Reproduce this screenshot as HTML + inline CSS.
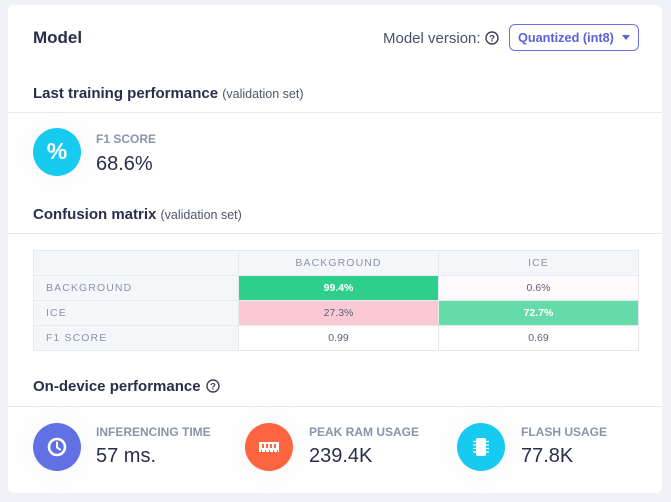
<!DOCTYPE html>
<html><head><meta charset="utf-8">
<style>
*{margin:0;padding:0;box-sizing:border-box}
html,body{width:671px;height:502px;overflow:hidden;background:#f0f1f6;font-family:"Liberation Sans",sans-serif}
.card{position:absolute;left:8px;top:5px;width:654px;height:488px;background:#fff;border-radius:6px}
.t{position:absolute;white-space:nowrap;line-height:1}
.h{font-weight:700;color:#2b2d4b;font-size:15px}
.sub{font-weight:400;color:#50546c;font-size:12.5px}
.line{position:absolute;left:8px;width:654px;height:1px;background:#e7e9ee}
.circ{position:absolute;width:48px;height:48px;border-radius:50%;box-shadow:0 0 26px 10px rgba(30,40,80,0.025)}
.lab{font-size:12px;font-weight:700;color:#8a93a9}
.val{font-size:20px;color:#2b2d4b}
.tbl{position:absolute;left:33px;top:250px;width:606px;height:101px;background:#e6e9ef}
.c{position:absolute;height:24px;line-height:24px;font-size:10.5px;text-align:center;color:#5b6079;background:#fff}
.lbl{background:#f4f7fa;color:#8a93a8;letter-spacing:1.1px;text-align:left;padding-left:12px}
.hd{background:#f4f7fa;color:#8a93a8;letter-spacing:1.1px}
.w{color:#fff;font-weight:700}
</style></head><body>
<div class="card"></div>

<div class="t" style="left:33px;top:28.5px;font-size:17px;font-weight:700;color:#2b2d4b">Model</div>
<div class="t" style="left:383px;top:30.5px;font-size:15px;color:#4c5068">Model version:</div>
<svg style="position:absolute;left:485px;top:31px" width="14" height="14" viewBox="0 0 14 14">
<circle cx="7" cy="7" r="6" fill="none" stroke="#3c3f55" stroke-width="1.4"/>
<text x="7" y="10.5" text-anchor="middle" font-family="Liberation Sans" font-weight="700" font-size="9.5" fill="#3c3f55">?</text>
</svg>
<div style="position:absolute;left:509px;top:24px;width:130px;height:27px;border:1px solid #6a6fdc;border-radius:6px"></div>
<div class="t" style="left:518px;top:31.5px;font-size:12.7px;font-weight:700;color:#5b60d6">Quantized (int8)</div>
<div style="position:absolute;left:622px;top:35px;width:0;height:0;border-left:4px solid transparent;border-right:4px solid transparent;border-top:5px solid #5b60d6"></div>

<div class="t h" style="left:33px;top:85.7px">Last training performance <span class="sub">(validation set)</span></div>
<div class="line" style="top:112px"></div>

<div class="circ" style="left:33px;top:128px;background:#16cbef"></div>
<div class="t" style="left:33px;top:140px;width:48px;text-align:center;font-size:23px;font-weight:700;color:#fff">%</div>
<div class="t lab" style="left:96px;top:133.2px">F1 SCORE</div>
<div class="t val" style="left:96px;top:154.3px">68.6%</div>

<div class="t h" style="left:33px;top:206.7px">Confusion matrix <span class="sub">(validation set)</span></div>
<div class="line" style="top:233px"></div>

<div class="tbl">
<div class="c hd" style="left:1px;top:1px;width:204px"></div>
<div class="c hd" style="left:206px;top:1px;width:199px">BACKGROUND</div>
<div class="c hd" style="left:406px;top:1px;width:199px">ICE</div>

<div class="c lbl" style="left:1px;top:26px;width:204px">BACKGROUND</div>
<div class="c w" style="left:206px;top:26px;width:199px;background:#2ecf8b">99.4%</div>
<div class="c" style="left:406px;top:26px;width:199px;background:#fffbfc">0.6%</div>

<div class="c lbl" style="left:1px;top:51px;width:204px">ICE</div>
<div class="c" style="left:206px;top:51px;width:199px;background:#fbc9d3">27.3%</div>
<div class="c w" style="left:406px;top:51px;width:199px;background:#66dbaa">72.7%</div>

<div class="c lbl" style="left:1px;top:76px;width:204px">F1 SCORE</div>
<div class="c" style="left:206px;top:76px;width:199px">0.99</div>
<div class="c" style="left:406px;top:76px;width:199px">0.69</div>
</div>

<div class="t h" style="left:33px;top:378.7px">On-device performance</div>
<svg style="position:absolute;left:206px;top:379px" width="14" height="14" viewBox="0 0 14 14">
<circle cx="7" cy="7" r="6" fill="none" stroke="#3c3f55" stroke-width="1.4"/>
<text x="7" y="10.5" text-anchor="middle" font-family="Liberation Sans" font-weight="700" font-size="9.5" fill="#3c3f55">?</text>
</svg>
<div class="line" style="top:406px"></div>

<!-- inferencing -->
<div class="circ" style="left:33px;top:423px;background:#6170e2"></div>
<svg style="position:absolute;left:33px;top:423px" width="48" height="48" viewBox="0 0 48 48">
<circle cx="24" cy="24" r="8" fill="none" stroke="#fff" stroke-width="2.6"/>
<path d="M24 19.5 V24.5 L27 26.5" fill="none" stroke="#fff" stroke-width="2" stroke-linecap="round"/>
</svg>
<div class="t lab" style="left:96px;top:426.1px">INFERENCING TIME</div>
<div class="t val" style="left:96px;top:446.2px">57 ms.</div>

<!-- ram -->
<div class="circ" style="left:245px;top:423px;background:#fd6541"></div>
<svg style="position:absolute;left:245px;top:423px" width="48" height="48" viewBox="0 0 48 48">
<rect x="14" y="19" width="20" height="10" fill="#fff"/>
<rect x="17" y="21" width="2" height="4" fill="#fd6541"/>
<rect x="21" y="21" width="2" height="4" fill="#fd6541"/>
<rect x="25" y="21" width="2" height="4" fill="#fd6541"/>
<rect x="29" y="21" width="2" height="4" fill="#fd6541"/>
<rect x="16" y="27" width="1" height="2" fill="#fd6541"/>
<rect x="20" y="27" width="1" height="2" fill="#fd6541"/>
<rect x="24" y="27" width="1" height="2" fill="#fd6541"/>
<rect x="28" y="27" width="1" height="2" fill="#fd6541"/>
<rect x="32" y="27" width="1" height="2" fill="#fd6541"/>
</svg>
<div class="t lab" style="left:309px;top:426.1px">PEAK RAM USAGE</div>
<div class="t val" style="left:309px;top:446.2px">239.4K</div>

<!-- flash -->
<div class="circ" style="left:457px;top:423px;background:#16cbef"></div>
<svg style="position:absolute;left:457px;top:423px" width="48" height="48" viewBox="0 0 48 48">
<rect x="19" y="15" width="10" height="18" rx="2" fill="#fff"/>
<g stroke="#fff" stroke-width="1.2">
<line x1="16" y1="18.5" x2="19" y2="18.5"/><line x1="16" y1="22" x2="19" y2="22"/><line x1="16" y1="25.5" x2="19" y2="25.5"/><line x1="16" y1="29" x2="19" y2="29"/>
<line x1="29" y1="18.5" x2="32" y2="18.5"/><line x1="29" y1="22" x2="32" y2="22"/><line x1="29" y1="25.5" x2="32" y2="25.5"/><line x1="29" y1="29" x2="32" y2="29"/>
</g>
</svg>
<div class="t lab" style="left:521px;top:426.1px">FLASH USAGE</div>
<div class="t val" style="left:521px;top:446.2px">77.8K</div>
</body></html>
